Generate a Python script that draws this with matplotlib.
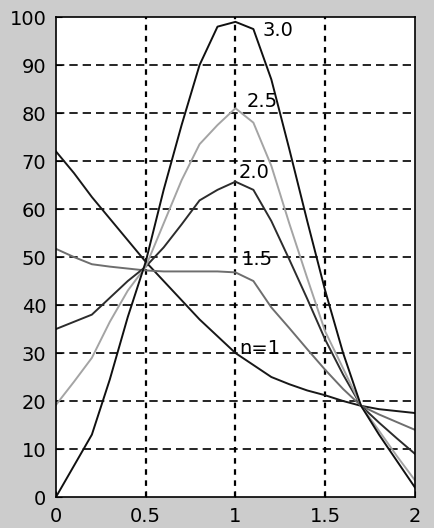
import numpy as np
import matplotlib.pyplot as plt

# x grid shared by all curves
x = np.round(np.arange(0, 2.01, 0.1), 1)

n1 = [72, 67.5, 62.5, 58, 53.5, 49, 45, 41, 37, 33.5, 30,
      27.5, 25, 23.5, 22.2, 21.2, 20, 19, 18.3, 17.9, 17.5]
n15 = [51.7, 50, 48.5, 48, 47.6, 47.2, 47, 47, 47, 47, 46.8,
       45, 39.5, 35.2, 30.8, 26.5, 22.5, 19, 17.2, 15.6, 14]
n20 = [35, 36.5, 38, 41.5, 45, 48, 52, 56.8, 61.8, 64, 65.7,
       64, 57.5, 49.5, 41.3, 32.8, 25.5, 19, 15.5, 12.2, 9]
n25 = [19.2, 24, 29, 36.5, 43, 48, 57, 66, 73.5, 77.5, 81,
       78, 69, 57, 45.6, 34.5, 26.8, 19, 13.8, 8.5, 3.5]
n30 = [0, 6.5, 13, 24.5, 37.5, 49, 64, 77.5, 90, 98, 99,
       97.5, 87, 72.5, 57.5, 43, 30, 19, 13, 7.5, 2]

curves = [n1, n15, n20, n25, n30]
colors = ['#181818', '#6e6e6e', '#2c2c2c', '#a4a4a4', '#101010']
labels = ['n=1', '1.5', '2.0', '2.5', '3.0']
label_pos = [(1.02, 31), (1.035, 49.4), (1.02, 67.6), (1.06, 82.4), (1.15, 97.3)]

fig = plt.figure(figsize=(4.34, 5.28), dpi=100, facecolor='#cccccc')
ax = fig.add_axes([0.129, 0.0587, 0.827, 0.909])
ax.set_facecolor('white')

for y, c in zip(curves, colors):
    ax.plot(x, y, color=c, lw=1.4)

for lab, (lx, ly) in zip(labels, label_pos):
    ax.text(lx, ly, lab, fontsize=14, ha='left', va='center', color='black')

ax.set_xlim(0, 2)
ax.set_ylim(0, 100)
ax.set_xticks([0, 0.5, 1, 1.5, 2])
ax.set_xticklabels(['0', '0.5', '1', '1.5', '2'])
ax.set_yticks(np.arange(0, 101, 10))

# dashed grid, dotted-ish verticals like the original
for yv in np.arange(10, 100, 10):
    ax.axhline(yv, color='black', lw=1.2, dashes=(5, 3), zorder=0.5)
for xv in [0.5, 1, 1.5]:
    ax.axvline(xv, color='black', lw=1.6, dashes=(2.5, 2.5), zorder=0.5)

ax.tick_params(direction='in', length=4, labelsize=14, pad=7, colors='black')
for s in ax.spines.values():
    s.set_linewidth(1.2)
    s.set_color('black')

fig.savefig('out.png', dpi=100, facecolor=fig.get_facecolor())
